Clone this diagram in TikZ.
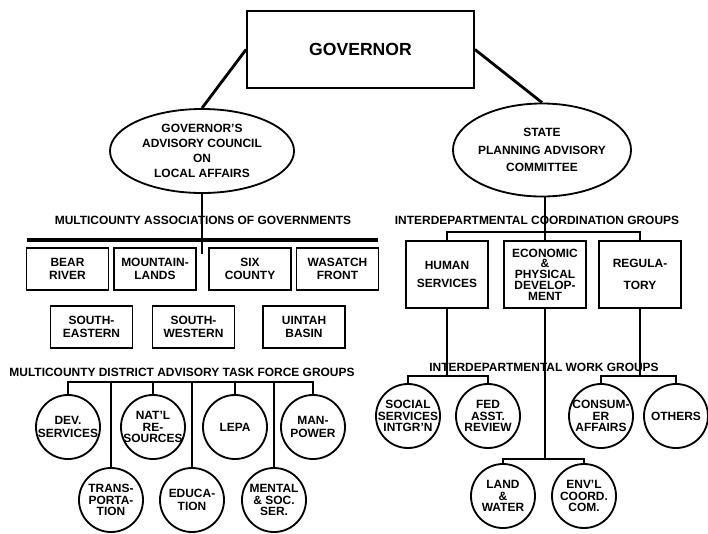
\documentclass[tikz,border=0pt]{standalone}
\usepackage{fontspec}
\setmainfont{Liberation Sans}
\usetikzlibrary{shapes.geometric}

\begin{document}
\begin{tikzpicture}[x=0.025cm, y=-0.025cm,
		txt/.style={font=\fontsize{8.5}{9.4}\selectfont\bfseries, align=center, inner sep=0pt},
		ctxt/.style={txt, font=\fontsize{8.5}{10.8}\selectfont\bfseries},
		gtxt/.style={txt, font=\fontsize{8.5}{8.4}\selectfont\bfseries},
		cbox/.style={draw, line width=1.3pt, minimum width=2.05cm, minimum height=1.05cm, txt},
		dbox/.style={cbox, minimum height=1.68cm},
		council/.style={draw, ellipse, line width=1.3pt, inner sep=0pt},
		grp/.style={draw, circle, line width=1.3pt, minimum size=1.6cm, inner sep=0pt},
		link/.style={line width=2pt}]
			\useasboundingbox (0,0) rectangle (708,533);

			% Governor
			\node[draw, line width=1.3pt, minimum width=5.675cm, minimum height=1.925cm,
				font=\fontsize{12.5}{14}\selectfont\bfseries] (gov) at (360.5,49.5) {GOVERNOR};

			% The two councils
			\node[council, minimum width=4.6cm, minimum height=2.1cm,
				label={[ctxt]center:GOVERNOR'S\\ADVISORY COUNCIL\\ON\\LOCAL AFFAIRS}] (lac) at (202,151) {};
			\node[council, minimum width=4.45cm, minimum height=2.325cm,
				label={[ctxt]center:STATE\\[1.5pt]PLANNING ADVISORY\\[1.5pt]COMMITTEE}] (spac) at (542,150) {};

			% Associations of governments
			\node[txt] (aog) at (203,220) {MULTICOUNTY ASSOCIATIONS OF GOVERNMENTS};
			\node[cbox] (bear) at (67.5,269) {BEAR\\RIVER};
			\node[cbox] (mtn) at (155,269) {MOUNTAIN-\\LANDS};
			\node[cbox] (six) at (250,269) {SIX\\COUNTY};
			\node[cbox] (wf) at (337.5,269) {WASATCH\\FRONT};
			\node[cbox] (se) at (91.5,327) {SOUTH-\\EASTERN};
			\node[cbox] (sw) at (193.5,327) {SOUTH-\\WESTERN};
			\node[cbox] (ub) at (304,327) {UINTAH\\BASIN};

			% Task force groups
			\node[txt] (tfg) at (182,372) {MULTICOUNTY DISTRICT ADVISORY TASK FORCE GROUPS};
			\node[grp, label={[txt]center:DEV.\\SERVICES}] (dev) at (68,427) {};
			\node[grp, label={[gtxt]center:NAT'L\\RE-\\SOURCES}] (nat) at (153,427) {};
			\node[grp, label={[txt]center:LEPA}] (lepa) at (235,427) {};
			\node[grp, label={[txt]center:MAN-\\POWER}] (man) at (313,427) {};
			\node[grp, label={[gtxt]center:TRANS-\\PORTA-\\TION}] (trn) at (111,500) {};
			\node[grp, label={[txt]center:EDUCA-\\TION}] (edu) at (192,500) {};
			\node[grp, label={[gtxt]center:MENTAL\\\& SOC.\\SER.}] (mnt) at (274,500) {};

			% Coordination groups
			\node[txt] (idc) at (537,220) {INTERDEPARTMENTAL COORDINATION GROUPS};
			\node[dbox] (hum) at (447,274.5) {HUMAN\\[4pt]SERVICES};
			\node[dbox, font=\fontsize{8.5}{7.6}\selectfont\bfseries] (eco) at (545,274.5) {ECONOMIC\\\&\\PHYSICAL\\DEVELOP-\\MENT};
			\node[dbox] (reg) at (640,274.5) {REGULA-\\[6pt]TORY};

			% Work groups
			\node[txt] (iwg) at (544,367) {INTERDEPARTMENTAL WORK GROUPS};
			\node[grp, label={[gtxt]center:SOCIAL\\SERVICES\\INTGR'N}] (ssi) at (408,416) {};
			\node[grp, label={[gtxt]center:FED\\ASST.\\REVIEW}] (far) at (488,416) {};
			\node[grp, label={[gtxt]center:CONSUM-\\ER\\AFFAIRS}] (con) at (601,416) {};
			\node[grp, label={[txt]center:OTHERS}] (oth) at (676,416) {};
			\node[grp, label={[gtxt]center:LAND\\\&\\WATER}] (lw) at (503,496) {};
			\node[grp, label={[gtxt]center:ENV'L\\COORD.\\COM.}] (env) at (584,496) {};

			% Bus points
			\coordinate (aogL) at (27,240);
			\coordinate (aogR) at (378,240);
			\coordinate (aogdrop) at (202,254);
			\coordinate (tf) at (0,382);
			\coordinate (cg) at (0,232);
			\coordinate (wg) at (0,376);
			\coordinate (wgb) at (0,459);

			% Lines on the left
			\draw[link] (gov.west) -- (lac.north);
			\draw[link] (lac.south) -- (aogdrop);
			\draw[line width=2.4pt] (aogL) -- (aogR);
			\draw[link] (dev.north) -- (dev.north |- tf) -- (man.north |- tf) -- (man.north);
			\foreach \g in {nat, lepa, trn, edu, mnt}
				\draw[link] (\g.north) -- (\g.north |- tf);

			% Lines on the right
			\draw[link] (gov.east) -- (spac.north);
			\draw[link] (eco.north) -- (eco.north |- spac.south);
			\draw[link] (hum.north) -- (hum.north |- cg) -- (reg.north |- cg) -- (reg.north);
			\draw[link] (hum.south) -- (hum.south |- wg);
			\draw[link] (ssi.north) -- (ssi.north |- wg) -- (far.north |- wg) -- (far.north);
			\draw[link] (reg.south) -- (reg.south |- wg);
			\draw[link] (con.north) -- (con.north |- wg) -- (oth.north |- wg) -- (oth.north);
			\draw[link] (eco.south) -- (eco.south |- wgb);
			\draw[link] (lw.north) -- (lw.north |- wgb) -- (env.north |- wgb) -- (env.north);
		\end{tikzpicture}
\end{document}
